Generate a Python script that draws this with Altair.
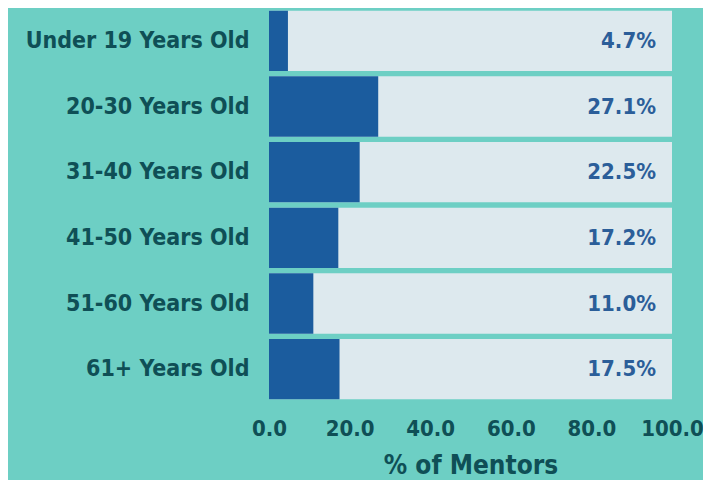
import altair as alt
import pandas as pd

categories = ["Under 19 Years Old", "20-30 Years Old", "31-40 Years Old",
              "41-50 Years Old", "51-60 Years Old", "61+ Years Old"]
values = [4.7, 27.1, 22.5, 17.2, 11.0, 17.5]
full = [100, 100, 100, 100, 100, 100]
ticks = [0, 20, 40, 60, 80, 100]

df = pd.DataFrame({"age": categories, "pct": values, "full": full,
                   "label": [f"{v:.1f}%" for v in values]})

FONT = "DejaVu Sans Condensed"
TEXT = "#0f4f56"

y = alt.Y("age:N", sort=categories, title=None,
          scale=alt.Scale(paddingInner=0.08, paddingOuter=0.04),
          axis=alt.Axis(labelFont=FONT, labelFontSize=23, labelColor=TEXT,
                        labelPadding=20, ticks=False, domain=False,
                        labelLimit=300, labelFontWeight="bold"))

x_axis = alt.Axis(format=".1f", values=ticks, labelOverlap=False,
                  labelFlush=False,
                  labelFont=FONT, labelFontSize=22, labelColor=TEXT,
                  labelFontWeight="bold", ticks=False, domain=False, grid=False,
                  labelPadding=16, title="% of Mentors", titleFont=FONT,
                  titleFontSize=26, titleColor=TEXT, titleFontWeight="bold",
                  titlePadding=13)

bg = alt.Chart(df).mark_bar(color="#dde9ee").encode(
    x=alt.X("full:Q", scale=alt.Scale(domain=[0, 100]), axis=x_axis),
    y=y)

fg = alt.Chart(df).mark_bar(color="#1b5c9e").encode(
    x=alt.X("pct:Q"), y=y)

txt = alt.Chart(df).mark_text(align="right", baseline="middle", dx=-16,
                              font=FONT, fontSize=22, fontWeight="bold",
                              color="#2b5e99").encode(
    x=alt.X("full:Q"), y=y, text="label:N")

chart = (bg + fg + txt).properties(
    width=403, height=394, background="#6dcfc4",
    padding={"left": 261, "top": 0, "right": 31, "bottom": 78},
    autosize=alt.AutoSizeParams(type="none"),
).configure_view(stroke=None)

chart.save("out.html", embed_options={"renderer": "svg", "actions": False})
